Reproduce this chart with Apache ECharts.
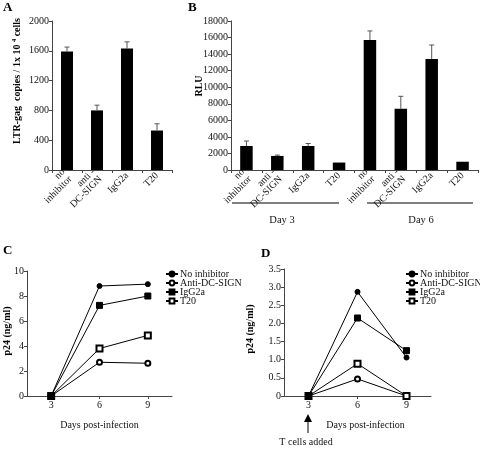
<!DOCTYPE html>
<html><head><meta charset="utf-8">
<script src="https://cdn.jsdelivr.net/npm/echarts@6/dist/echarts.min.js"></script>
<style>html,body{margin:0;padding:0;background:#fff}#c{width:480px;height:449px}</style>
</head><body><div id="c"></div>
<script>
// ---- data ----
const catsA = ['no\ninhibitor', 'anti -\nDC-SIGN', 'IgG2a', 'T20'];
const valsA = [1590, 800, 1630, 530];
const errA = [60, 70, 90, 90];
const ticksA = [0, 400, 800, 1200, 1600, 2000];

const catsB = ['no\ninhibitor', 'anti -\nDC-SIGN', 'IgG2a', 'T20', 'no\ninhibitor', 'anti -\nDC-SIGN', 'IgG2a', 'T20'];
const valsB = [2900, 1700, 2900, 900, 15700, 7400, 13400, 1000];
const errB = [600, 100, 300, 0, 1100, 1500, 1700, 0];
const dayGroups = ['Day 3', 'Day 6'];

const days = ['3', '6', '9'];
const seriesNames = ['No inhibitor', 'Anti-DC-SIGN', 'IgG2a', 'T20'];
const noInhC = [0, 8.8, 8.95];
const antiC = [0, 2.7, 2.62];
const iggC = [0, 7.25, 8.0];
const t20C = [0, 3.8, 4.85];

const noInhD = [0, 2.87, 1.06];
const antiD = [0, 0.47, 0];
const iggD = [0, 2.15, 1.25];
const t20D = [0, 0.89, 0];

// ---- styles ----
const FONT = 'Liberation Serif';
const AX = '#444';
const symbols = ['circle', 'emptyCircle', 'rect', 'emptyRect'];
const symSizes = [5, 5, 6, 6];
const FS = 10;

function errRender(params, api) {
  const x = api.value(0), v = api.value(1), e = api.value(2);
  if (!e) return null;
  const p0 = api.coord([x, v]);
  const p1 = api.coord([x, v + e]);
  const w = 2.5;
  return {
    type: 'group', children: [
      {type: 'line', shape: {x1: p0[0], y1: p0[1], x2: p1[0], y2: p1[1]}, style: {stroke: '#555', lineWidth: 1}},
      {type: 'line', shape: {x1: p1[0] - w, y1: p1[1], x2: p1[0] + w, y2: p1[1]}, style: {stroke: '#555', lineWidth: 1}}
    ]
  };
}

function valAxis(gi, min, max, interval, fmt) {
  return {
    type: 'value', gridIndex: gi, min: min, max: max, interval: interval,
    splitLine: {show: false},
    axisLine: {show: true, lineStyle: {color: AX, width: 1}},
    axisTick: {show: true, length: 3, lineStyle: {color: AX}},
    axisLabel: {fontFamily: FONT, fontSize: FS, color: '#111', margin: 3, formatter: fmt || (v => String(v))}
  };
}
function catAxis(gi, data, rotate, extra) {
  return Object.assign({
    type: 'category', gridIndex: gi, data: data,
    axisLine: {show: true, lineStyle: {color: AX, width: 1}},
    axisTick: {show: true, length: 3, lineStyle: {color: AX}},
    axisLabel: {fontFamily: FONT, fontSize: FS, color: '#111', rotate: rotate, margin: 4, interval: 0, lineHeight: 10}
  }, extra || {});
}
function lineSeries(gi, vals) {
  return vals.map((v, i) => ({
    type: 'line', name: seriesNames[i], xAxisIndex: gi, yAxisIndex: gi, data: v,
    symbol: symbols[i], symbolSize: symSizes[i],
    itemStyle: {color: '#000', borderColor: '#000', borderWidth: 1},
    lineStyle: {color: '#000', width: 1}, z: 3 + (i === 2 ? 2 : 0), animation: false
  }));
}
function legend(left, top) {
  return {
    data: seriesNames, orient: 'vertical', left: left, top: top,
    itemWidth: 12, itemHeight: 6, itemGap: -1, padding: 0,
    textStyle: {fontFamily: FONT, fontSize: 10, color: '#111', lineHeight: 9, padding: [0, 0, 0, -3]},
    selectedMode: false
  };
}

const chart = echarts.init(document.getElementById('c'), null, {renderer: 'canvas'});
const nameStyle = {fontFamily: FONT, fontSize: 10, color: '#111'};
const option = {
  animation: false,
  backgroundColor: '#fff',
  grid: [
    {left: 52, top: 21, width: 120, height: 149, outerBoundsMode: 'none'},
    {left: 231, top: 21, width: 247, height: 149, outerBoundsMode: 'none'},
    {left: 27, top: 271, width: 145, height: 125, outerBoundsMode: 'none'},
    {left: 284, top: 269, width: 147, height: 127, outerBoundsMode: 'none'}
  ],
  xAxis: [
    catAxis(0, catsA, 45),
    catAxis(1, catsB, 45),
    catAxis(2, days, 0, {axisTick: {show: true, alignWithLabel: true, length: 3, lineStyle: {color: AX}},
      name: 'Days post-infection', nameLocation: 'middle', nameGap: 24, nameTextStyle: nameStyle}),
    catAxis(3, days, 0, {axisTick: {show: true, alignWithLabel: true, length: 3, lineStyle: {color: AX}},
      name: 'Days post-infection', nameLocation: 'middle', nameGap: 24,
      nameTextStyle: Object.assign({padding: [0, 0, 0, 16]}, nameStyle)})
  ],
  yAxis: [
    valAxis(0, ticksA[0], ticksA[ticksA.length - 1], 400),
    valAxis(1, 0, 18000, 2000),
    valAxis(2, 0, 10, 2),
    valAxis(3, 0, 3.5, 0.5, v => v === 0 ? '0' : v.toFixed(1))
  ],
  legend: [legend(165, 269), legend(405, 269)],
  series: [
    {type: 'bar', xAxisIndex: 0, yAxisIndex: 0, data: valsA, barWidth: 12, itemStyle: {color: '#000'}},
    {type: 'custom', xAxisIndex: 0, yAxisIndex: 0, renderItem: errRender, z: 5,
      data: valsA.map((v, i) => [i, v, errA[i]]), encode: {x: 0, y: 1}},
    {type: 'bar', xAxisIndex: 1, yAxisIndex: 1, data: valsB, barWidth: 12.5, itemStyle: {color: '#000'}},
    {type: 'custom', xAxisIndex: 1, yAxisIndex: 1, renderItem: errRender, z: 5,
      data: valsB.map((v, i) => [i, v, errB[i]]), encode: {x: 0, y: 1}},
    ...lineSeries(2, [noInhC, antiC, iggC, t20C]),
    ...lineSeries(3, [noInhD, antiD, iggD, t20D])
  ],
  graphic: [
    {type: 'text', left: 3, top: 1, style: {text: 'A', font: 'bold 13px "Liberation Serif"', fill: '#000'}},
    {type: 'text', left: 188, top: 1, style: {text: 'B', font: 'bold 13px "Liberation Serif"', fill: '#000'}},
    {type: 'text', left: 3, top: 244, style: {text: 'C', font: 'bold 13px "Liberation Serif"', fill: '#000'}},
    {type: 'text', left: 261, top: 247, style: {text: 'D', font: 'bold 13px "Liberation Serif"', fill: '#000'}},
    {type: 'text', x: 17, y: 81, rotation: Math.PI / 2,
      style: {text: '{n|LTR-gag  copies / 1x 10 }{s|4}{n| cells}', align: 'center', verticalAlign: 'middle',
        rich: {n: {font: 'bold 10px "Liberation Serif"', fill: '#000'}, s: {font: 'bold 6.5px "Liberation Serif"', fill: '#000', verticalAlign: 'top', padding: [0, 0, 5, 0]}}}},
    {type: 'text', x: 199, y: 86, rotation: Math.PI / 2,
      style: {text: 'RLU', font: 'bold 10px "Liberation Serif"', fill: '#000', align: 'center', verticalAlign: 'middle'}},
    {type: 'text', x: 7, y: 331, rotation: Math.PI / 2,
      style: {text: 'p24 (ng/ml)', font: 'bold 10px "Liberation Serif"', fill: '#000', align: 'center', verticalAlign: 'middle'}},
    {type: 'text', x: 250, y: 329, rotation: Math.PI / 2,
      style: {text: 'p24 (ng/ml)', font: 'bold 10px "Liberation Serif"', fill: '#000', align: 'center', verticalAlign: 'middle'}},
    {type: 'line', shape: {x1: 232, y1: 203, x2: 339, y2: 203}, style: {stroke: '#000', lineWidth: 1}},
    {type: 'line', shape: {x1: 367, y1: 203, x2: 473, y2: 203}, style: {stroke: '#000', lineWidth: 1}},
    {type: 'text', x: 282, y: 220, style: {text: dayGroups[0], font: '10.5px "Liberation Serif"', fill: '#111', align: 'center', verticalAlign: 'middle'}},
    {type: 'text', x: 421, y: 220, style: {text: dayGroups[1], font: '10.5px "Liberation Serif"', fill: '#111', align: 'center', verticalAlign: 'middle'}},
    {type: 'line', shape: {x1: 308, y1: 421, x2: 308, y2: 433}, style: {stroke: '#000', lineWidth: 1}},
    {type: 'polygon', shape: {points: [[308, 414], [304, 422], [312, 422]]}, style: {fill: '#000'}},
    {type: 'text', x: 306, y: 442, style: {text: 'T cells added', font: '10px "Liberation Serif"', fill: '#111', align: 'center', verticalAlign: 'middle'}}
  ]
};
chart.setOption(option);
</script>
</body></html>
